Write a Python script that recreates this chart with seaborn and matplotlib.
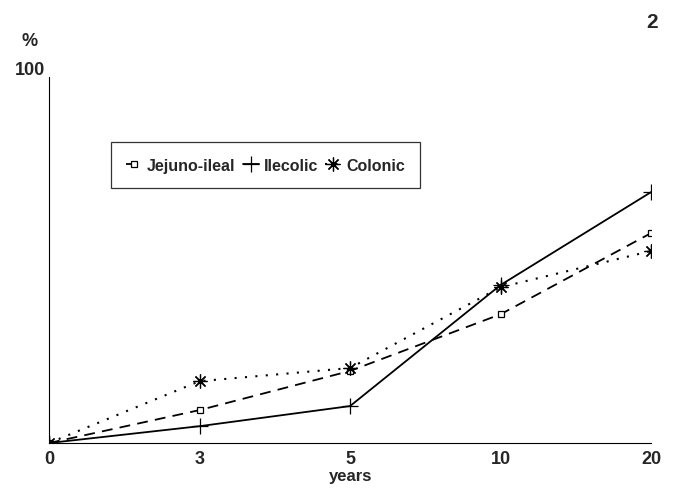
import matplotlib
matplotlib.use("Agg")
import matplotlib.pyplot as plt
import seaborn as sns

# values (%)
years = ["0", "3", "5", "10", "20"]
jejuno_ileal = [0, 9.0, 19.7, 35.2, 57.4]
ilecolic = [0, 4.6, 10.1, 43.2, 68.6]
colonic = [0, 16.9, 20.5, 42.6, 52.5]

sns.set_style("white")
plt.rcParams['font.family'] = ['Liberation Sans', 'DejaVu Sans']
plt.rcParams['font.weight'] = 'bold'

fig = plt.figure(figsize=(6.75, 4.89), dpi=100)
ax = fig.add_axes([0.0726, 0.092, 0.892, 0.748])

# seaborn sets white marker edges on lines, so force black
sns.lineplot(x=years, y=jejuno_ileal, ax=ax, color='black', linestyle=(0, (6, 4)),
             linewidth=1.3, marker='s', markersize=4, markerfacecolor='white',
             markeredgecolor='black', markeredgewidth=0.9, label='Jejuno-ileal')
sns.lineplot(x=years, y=ilecolic, ax=ax, color='black', linestyle='-',
             linewidth=1.3, marker='+', markersize=12, markeredgecolor='black',
             markeredgewidth=0.9, label='Ilecolic')
sns.lineplot(x=years, y=colonic, ax=ax, color='black', linestyle=(0, (1, 4)),
             linewidth=1.5, marker=(8, 2, 0), markersize=10, markeredgecolor='black',
             markeredgewidth=0.9, label='Colonic')

ax.set_xlim(0, 4)
ax.set_ylim(0, 100)
ax.set_yticks([])
ax.tick_params(axis='x', length=0, pad=5, labelsize=13)
for lab in ax.get_xticklabels():
    lab.set_fontweight('bold')
ax.set_xlabel('years', fontsize=12, fontweight='bold', labelpad=1)
ax.set_ylabel('')

for side in ['top', 'right']:
    ax.spines[side].set_visible(False)
for side in ['left', 'bottom']:
    ax.spines[side].set_color('black')
    ax.spines[side].set_linewidth(0.8)

ax.text(-0.027, 102.2, '100', ha='right', va='center',
        fontsize=13, fontweight='bold', clip_on=False)
ax.text(-0.032, 1.1, '%', transform=ax.transAxes, ha='center', va='center',
        fontsize=13, fontweight='bold')
fig.text(0.966, 0.953, '2', ha='center', va='center', fontsize=15, fontweight='bold')

leg = ax.legend(loc='upper left', bbox_to_anchor=(0.103, 0.702, 0.513, 0.12),
                mode='expand', ncol=3, frameon=True, fancybox=False,
                handlelength=1.0, handletextpad=0.3, columnspacing=0.6,
                borderpad=0.95, borderaxespad=0,
                prop={'size': 11.5, 'weight': 'bold'})
leg.get_frame().set_edgecolor('black')
leg.get_frame().set_linewidth(0.9)

fig.savefig('out.png', dpi=100)
